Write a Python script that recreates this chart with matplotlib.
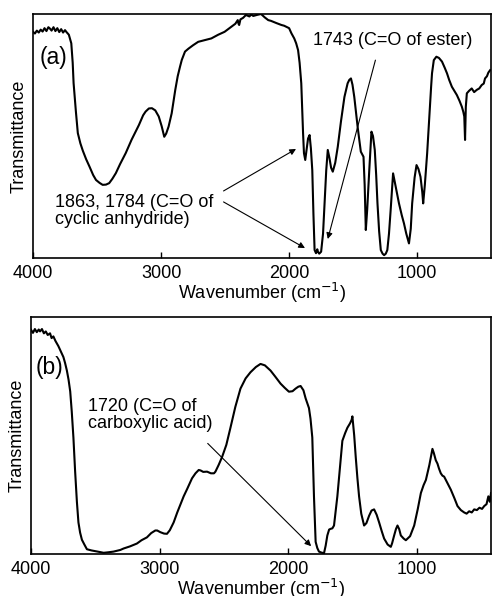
import matplotlib.pyplot as plt

plt.rcParams['font.family'] = ['Liberation Sans', 'DejaVu Sans']

# spectrum (a): (wavenumber cm-1, transmittance %)
spec_a = [(4000, 92.7), (3985, 92.0), (3970, 93.2), (3955, 92.4), (3940, 93.6), (3925, 92.8),
          (3910, 94.2), (3895, 93.0), (3880, 94.6), (3869, 94.1), (3855, 93.2), (3840, 94.6),
          (3825, 93.0), (3810, 94.2), (3795, 92.6), (3780, 93.8), (3765, 92.4), (3750, 93.4),
          (3740, 92.7), (3720, 91.5), (3701, 88.0), (3690, 80.0), (3683, 71.7), (3665, 60.0),
          (3650, 51.2), (3630, 47.0), (3611, 44.0), (3585, 40.5), (3559, 37.5), (3530, 34.0),
          (3508, 32.0), (3480, 30.8), (3456, 30.0), (3430, 30.1), (3405, 30.7), (3380, 32.5),
          (3353, 34.8), (3320, 38.5), (3276, 43.0), (3230, 48.5), (3173, 54.5), (3140, 58.5),
          (3121, 60.0), (3095, 61.3), (3071, 61.4), (3045, 60.5), (3018, 58.0), (2995, 54.0),
          (2975, 49.7), (2960, 51.0), (2941, 53.9), (2917, 59.3), (2889, 68.9), (2870, 74.5),
          (2852, 78.4), (2838, 81.2), (2813, 84.6), (2786, 85.8), (2750, 87.2), (2710, 88.6),
          (2660, 89.3), (2607, 90.0), (2554, 91.5), (2504, 92.7), (2451, 94.8), (2420, 96.0),
          (2401, 97.5), (2395, 96.0), (2390, 95.5), (2380, 97.8), (2360, 98.4), (2337, 99.6),
          (2310, 99.0), (2296, 99.8), (2280, 99.2), (2253, 99.6), (2219, 100.0), (2190, 98.6),
          (2163, 97.5), (2142, 97.2), (2100, 96.3), (2060, 95.5), (2039, 95.2), (2000, 94.2),
          (1982, 92.1), (1960, 90.0), (1945, 88.0), (1930, 85.2), (1918, 80.0), (1905, 71.6),
          (1891, 51.2), (1884, 43.0), (1874, 40.2), (1863, 44.5), (1852, 49.0), (1840, 50.4),
          (1830, 45.0), (1819, 36.0), (1810, 18.0), (1801, 3.3), (1790, 2.0), (1780, 3.6),
          (1775, 2.6), (1765, 1.8), (1750, 2.6), (1735, 10.0), (1723, 22.5), (1710, 36.0),
          (1698, 44.3), (1685, 41.0), (1672, 37.0), (1659, 35.4), (1640, 39.0), (1620, 45.6),
          (1595, 56.0), (1568, 66.0), (1543, 71.6), (1530, 73.0), (1517, 73.6), (1505, 71.0),
          (1491, 66.0), (1478, 60.0), (1465, 53.8), (1440, 43.6), (1419, 41.5), (1410, 30.0),
          (1401, 11.5), (1390, 20.0), (1374, 36.0), (1357, 51.8), (1345, 50.0), (1331, 44.3),
          (1320, 34.0), (1310, 22.5), (1297, 11.0), (1284, 3.3), (1270, 1.8), (1258, 1.2),
          (1245, 1.8), (1233, 3.3), (1220, 10.0), (1207, 19.7), (1188, 34.7), (1178, 32.0),
          (1168, 29.2), (1142, 22.4), (1120, 17.5), (1103, 14.2), (1085, 10.0), (1064, 6.0),
          (1050, 12.0), (1039, 22.4), (1020, 33.0), (1005, 38.1), (990, 36.5), (974, 33.3),
          (960, 27.0), (953, 22.4), (940, 30.0), (922, 42.9), (905, 58.0), (891, 70.2),
          (884, 75.7), (870, 81.1), (850, 82.5), (830, 82.0), (806, 80.5), (785, 78.0),
          (767, 75.7), (750, 73.0), (729, 70.2), (710, 68.5), (690, 66.8), (670, 64.5),
          (651, 62.0), (640, 60.0), (632, 58.0), (626, 48.4), (620, 62.0), (612, 67.5),
          (595, 68.5), (574, 69.5), (555, 68.0), (535, 68.9), (515, 69.5), (496, 70.9),
          (480, 71.5), (470, 73.6), (455, 74.5), (444, 76.0), (430, 77.0)]

# spectrum (b)
spec_b = [(4000, 94.5), (3985, 93.2), (3970, 94.8), (3955, 93.5), (3940, 94.6), (3930, 93.8),
          (3915, 94.8), (3900, 93.0), (3885, 93.8), (3870, 92.3), (3852, 93.0), (3840, 91.0),
          (3826, 91.7), (3810, 89.8), (3787, 87.6), (3765, 85.0), (3748, 83.0), (3735, 80.5),
          (3721, 77.3), (3708, 73.5), (3695, 68.5), (3683, 60.0), (3670, 49.0), (3657, 35.0),
          (3643, 22.0), (3631, 13.3), (3618, 9.0), (3604, 6.0), (3585, 4.0), (3565, 2.0),
          (3530, 1.5), (3500, 1.2), (3462, 0.8), (3435, 0.5), (3400, 0.7), (3358, 1.0),
          (3305, 1.7), (3280, 2.3), (3230, 3.2), (3176, 4.4), (3140, 5.8), (3098, 7.0),
          (3065, 8.8), (3033, 9.9), (3018, 9.9), (2994, 9.2), (2965, 8.6), (2942, 8.5),
          (2920, 10.0), (2890, 13.3), (2862, 17.5), (2840, 20.5), (2812, 24.3), (2784, 27.5),
          (2747, 31.9), (2720, 34.0), (2695, 35.4), (2680, 35.2), (2660, 34.6), (2630, 34.7),
          (2600, 34.0), (2576, 34.0), (2565, 34.7), (2540, 37.5), (2513, 40.9), (2480, 46.0),
          (2448, 53.2), (2410, 62.0), (2370, 69.7), (2330, 74.0), (2292, 76.6), (2250, 78.8),
          (2214, 80.1), (2180, 79.5), (2136, 77.3), (2100, 74.8), (2058, 71.8), (2025, 70.0),
          (1993, 68.4), (1965, 68.6), (1941, 69.7), (1920, 70.5), (1902, 70.8), (1880, 69.0),
          (1863, 65.6), (1850, 63.5), (1837, 61.5), (1825, 57.0), (1811, 49.1), (1798, 24.3),
          (1785, 5.1), (1772, 2.5), (1759, 1.0), (1740, 0.6), (1720, 0.3), (1707, 3.5),
          (1694, 7.8), (1680, 10.3), (1668, 10.6), (1655, 10.8), (1642, 12.0), (1630, 17.5),
          (1616, 24.3), (1595, 37.0), (1577, 47.7), (1555, 51.0), (1538, 53.2), (1518, 55.0),
          (1505, 56.5), (1499, 58.0), (1485, 50.0), (1473, 40.9), (1460, 32.0), (1447, 24.3),
          (1430, 17.0), (1408, 12.0), (1390, 13.0), (1369, 16.1), (1350, 18.3), (1330, 18.8),
          (1310, 16.5), (1291, 13.3), (1270, 9.5), (1252, 6.5), (1225, 4.0), (1200, 3.0),
          (1190, 4.5), (1174, 7.8), (1160, 10.5), (1148, 12.0), (1135, 10.5), (1122, 7.8),
          (1100, 6.5), (1083, 5.8), (1050, 7.5), (1018, 12.0), (990, 19.0), (966, 25.7),
          (945, 29.0), (927, 31.2), (900, 37.5), (876, 44.3), (865, 42.5), (850, 39.5),
          (837, 38.1), (825, 36.0), (811, 34.0), (798, 33.0), (785, 32.6), (760, 30.0),
          (733, 27.1), (705, 23.5), (681, 20.2), (655, 18.5), (629, 17.5), (610, 17.0),
          (590, 18.0), (570, 17.5), (551, 18.8), (530, 18.5), (510, 19.5), (490, 19.0),
          (473, 20.2), (455, 21.0), (441, 24.3), (430, 22.0), (420, 25.7)]

wn_a, t_a = zip(*spec_a)
wn_b, t_b = zip(*spec_b)

xticks = [4000, 3000, 2000, 1000]
xlabel = 'Wavenumber (cm$^{-1}$)'
fs = 13

fig = plt.figure(figsize=(4.94, 5.96), dpi=100)
ax_a = fig.add_axes([0.0668, 0.567, 0.928, 0.4095])
ax_b = fig.add_axes([0.0628, 0.0705, 0.9312, 0.3981])

for ax, wn, t in [(ax_a, wn_a, t_a), (ax_b, wn_b, t_b)]:
    ax.plot(wn, t, color='black', lw=1.5)
    ax.set_xlim(4000, 420)
    ax.set_ylim(0, 100)
    ax.set_xticks(xticks)
    ax.set_xticklabels([str(v) for v in xticks], fontsize=fs)
    ax.set_yticks([])
    ax.tick_params(axis='x', direction='in', length=4, width=1, pad=5)
    ax.set_xlabel(xlabel, fontsize=fs, labelpad=-1)
    ax.set_ylabel('Transmittance', fontsize=fs, labelpad=4)
    for s in ax.spines.values():
        s.set_linewidth(1.2)

arrow = dict(arrowstyle='-|>', color='black', lw=0.8, mutation_scale=9, shrinkA=0, shrinkB=0)

ax_a.text(3946, 82, '(a)', fontsize=16.5, ha='left', va='center')
ax_a.text(3830, 19.3, '1863, 1784 (C=O of\ncyclic anhydride)', fontsize=fs,
          ha='left', va='center', linespacing=1.0)
ax_a.annotate('', xy=(1946, 44.7), xytext=(2512, 27.5), arrowprops=arrow)
ax_a.annotate('', xy=(1876, 4.1), xytext=(2512, 23), arrowprops=arrow)
ax_a.text(1814, 89.3, '1743 (C=O of ester)', fontsize=fs, ha='left', va='center')
ax_a.annotate('', xy=(1698, 7.8), xytext=(1326, 81.1), arrowprops=arrow)

ax_b.text(3961, 78.8, '(b)', fontsize=16.5, ha='left', va='center')
ax_b.text(3555, 58.4, '1720 (C=O of\ncarboxylic acid)', fontsize=fs,
          ha='left', va='center', linespacing=1.0)
ax_b.annotate('', xy=(1820, 3.3), xytext=(2625, 46.6), arrowprops=arrow)

fig.savefig('out.png', dpi=100)
